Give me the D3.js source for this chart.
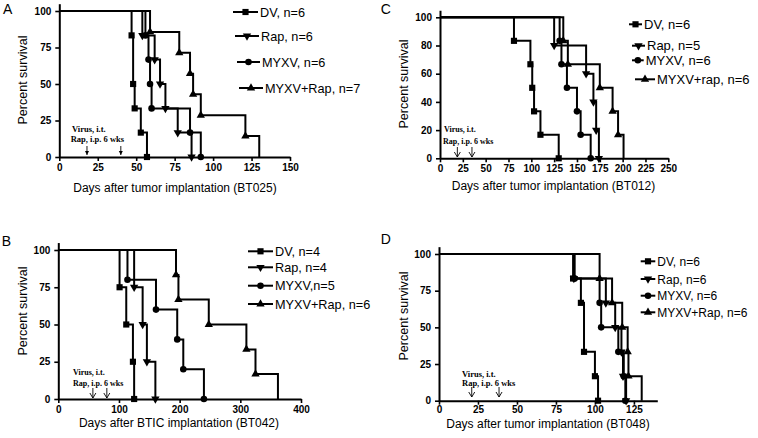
<!DOCTYPE html>
<html><head><meta charset="utf-8">
<script src="https://cdn.jsdelivr.net/npm/d3@7"></script>
<style>body{margin:0;background:#fff}svg{display:block}</style>
</head><body>
<svg id="c" width="758" height="438"></svg>
<script>
// ---------- DATA ----------
const markerTypes = ["square", "triangleDown", "circle", "triangleUp"];

// Panel A (BT025)
const A_legend = ["DV, n=6", "Rap, n=6", "MYXV, n=6", "MYXV+Rap, n=7"];
const A_DV   = [[47, 83.3], [48, 50], [49, 33.3], [53, 16.7], [57, 0]];
const A_Rap  = [[54, 83.3], [62, 66.7], [65.5, 50], [69, 33.3], [77, 16.7], [86, 0]];
const A_MYXV = [[56, 83.3], [58, 66.7], [59, 50], [60, 33.3], [85, 16.7], [92, 0]];
const A_MR   = [[59, 85.7], [78, 71.4], [85, 57.1], [87, 42.9], [92, 28.6], [121, 14.3], [130, 0]];
const A_xTicks = [0, 25, 50, 75, 100, 125, 150];
const A_yTicks = [0, 25, 50, 75, 100];
const A_arrows = [18, 40];

// Panel C (BT012)
const C_legend = ["DV, n=6", "Rap, n=5", "MYXV, n=6", "MYXV+rap, n=6"];
const C_DV   = [[81, 83.3], [99, 66.7], [101, 50], [103, 33.3], [110, 16.7], [130, 0]];
const C_Rap  = [[125, 80], [160, 60], [168, 40], [171, 20], [174, 0]];
const C_MYXV = [[131, 83.3], [133, 66.7], [139, 50], [150, 33.3], [154, 16.7], [165, 0]];
const C_MR   = [[135, 83.3], [140, 66.7], [175, 50], [189, 33.3], [195, 16.7], [201, 0]];
const C_xTicks = [0, 25, 50, 75, 100, 125, 150, 175, 200, 225, 250];
const C_yTicks = [0, 20, 40, 60, 80, 100];
const C_arrows = [19, 35];

// Panel B (BT042)
const B_legend = ["DV, n=4", "Rap, n=4", "MYXV,n=5", "MYXV+Rap, n=6"];
const B_DV   = [[101, 75], [112, 50], [123, 25], [125, 0]];
const B_Rap  = [[125, 75], [139, 50], [146, 25], [160, 0]];
const B_MYXV = [[114, 80], [161, 60], [196, 40], [206, 20], [240, 0]];
const B_MR   = [[194, 83.3], [198, 66.7], [248, 50], [310, 33.3], [325, 16.7], [362, 0]];
const B_xTicks = [0, 100, 200, 300, 400];
const B_yTicks = [0, 25, 50, 75, 100];
const B_arrows = [57, 80];

// Panel D (BT048)
const D_legend = ["DV, n=6", "Rap, n=6", "MYXV, n=6", "MYXV+Rap, n=6"];
const D_DV   = [[86, 83.3], [91, 66.7], [93, 33.3], [100, 16.7], [102, 0]];
const D_Rap  = [[86.5, 83.3], [107, 66.7], [113, 50], [117, 33.3], [118, 16.7], [120, 0]];
const D_MYXV = [[87, 83.3], [103, 66.7], [104, 50], [115, 33.3], [118.5, 16.7], [119.5, 0]];
const D_MR   = [[103, 83.3], [111, 66.7], [117.5, 50], [121, 33.3], [121.5, 16.7], [130, 0]];
const D_xTicks = [0, 25, 50, 75, 100, 125];
const D_yTicks = [0, 25, 50, 75, 100];
const D_arrows = [21, 38.5];

const annot1 = "Virus, i.t.";
const annot2 = "Rap, i.p. 6 wks";

// ---------- LAYOUT ----------
const panels = [
  {letter: "A", lx: 3, ly: 13.5, x0: 59.3, x1: 290, y0: 157, y100: 11, xMax: 150, tp: 3,
   xTicks: A_xTicks, yTicks: A_yTicks, series: [A_DV, A_Rap, A_MYXV, A_MR], legend: A_legend,
   xTitle: "Days after tumor implantation (BT025)", xtx: 175, xty: 192, ytx: 23, yty: 80,
   legX0: [233, 235, 237, 239], legTx: [260, 261, 262, 265], legY: [12, 36, 62, 88], legFs: 12.7,
   arrows: A_arrows, ay1: 146, ay2: 155, filled: true, t1: [72, 132], t2: [70.7, 142], afs: 8.5},
  {letter: "C", lx: 380.7, ly: 13.5, x0: 440, x1: 668.3, y0: 158.3, y100: 17.3, xMax: 250, tp: 3,
   xTicks: C_xTicks, yTicks: C_yTicks, series: [C_DV, C_Rap, C_MYXV, C_MR], legend: C_legend,
   xTitle: "Days after tumor implantation (BT012)", xtx: 553.5, xty: 189.5, ytx: 404, yty: 84,
   legX0: [629, 632, 632, 635], legTx: [644, 647, 645.7, 657], legY: [24.3, 45.7, 60.3, 79.3], legFs: 13,
   arrows: C_arrows, ay1: 147, ay2: 157, filled: false, t1: [444, 132], t2: [443, 144], afs: 8},
  {letter: "B", lx: 1.7, ly: 246, x0: 58.3, x1: 301, y0: 399, y100: 250, xMax: 400, tp: 3,
   xTicks: B_xTicks, yTicks: B_yTicks, series: [B_DV, B_Rap, B_MYXV, B_MR], legend: B_legend,
   xTitle: "Days after BTIC implantation (BT042)", xtx: 179, xty: 427, ytx: 23, yty: 311,
   legX0: [248, 248, 248, 248], legTx: [275, 275, 275, 275], legY: [251.3, 267.3, 285.7, 304], legFs: 12.7,
   arrows: B_arrows, ay1: 388, ay2: 398, filled: false, t1: [73, 375], t2: [73, 385.5], afs: 8},
  {letter: "D", lx: 380.7, ly: 244, x0: 439, x1: 657.3, y0: 400.7, y100: 254, xMax: 140, tp: 1.5,
   xTicks: D_xTicks, yTicks: D_yTicks, series: [D_DV, D_Rap, D_MYXV, D_MR], legend: D_legend,
   xTitle: "Days after tumor implantation (BT048)", xtx: 548, xty: 427.5, ytx: 404, yty: 316,
   legX0: [640.7, 640.7, 640.7, 640.7], legTx: [657.3, 657.3, 657.3, 657.3], legY: [261.3, 279, 295.7, 312.3], legFs: 12,
   arrows: D_arrows, ay1: 387, ay2: 397, filled: false, t1: [462, 377], t2: [462, 385.5], afs: 8.5}
];

const svg = d3.select("#c");
const FONT = "Arial, 'Liberation Sans', Helvetica, sans-serif";
const SERIF = "'Times New Roman', 'Liberation Serif', serif";

function symbolPath(type) {
  if (type === "square") return d3.symbol(d3.symbolSquare, 38)();
  if (type === "circle") return d3.symbol(d3.symbolCircle, 34)();
  return d3.symbol(d3.symbolTriangle, 30)();
}
function drawMarker(g, type, x, y) {
  g.append("path").attr("d", symbolPath(type))
    .attr("transform", `translate(${x},${y})` + (type === "triangleDown" ? " rotate(180)" : ""))
    .attr("fill", "#000");
}

panels.forEach(p => {
  const g = svg.append("g");
  const x = d3.scaleLinear().domain([0, p.xMax]).range([p.x0, p.x1]);
  const y = d3.scaleLinear().domain([0, 100]).range([p.y0, p.y100]);
  const yAx = d3.scaleLinear().domain([0, 105]).range([p.y0, y(105)]);

  // panel letter
  g.append("text").attr("x", p.lx).attr("y", p.ly).text(p.letter)
    .attr("font-family", FONT).attr("font-size", 14);

  // axes
  const ya = g.append("g").attr("transform", `translate(${p.x0},0)`)
    .call(d3.axisLeft(yAx).tickValues(p.yTicks).tickSize(4).tickPadding(4).tickSizeOuter(0));
  const xa = g.append("g").attr("transform", `translate(0,${p.y0})`)
    .call(d3.axisBottom(x).tickValues(p.xTicks).tickSize(4).tickPadding(p.tp).tickSizeOuter(0));
  [ya, xa].forEach(a => {
    a.select(".domain").attr("stroke-width", 2).attr("stroke", "#000");
    a.selectAll(".tick line").attr("stroke-width", 1.6).attr("stroke", "#000");
    a.selectAll(".tick text").attr("font-family", FONT).attr("font-size", 10)
      .attr("font-weight", "bold").attr("fill", "#000");
  });

  // titles
  g.append("text").attr("x", p.xtx).attr("y", p.xty).attr("text-anchor", "middle")
    .attr("font-family", FONT).attr("font-size", 12).text(p.xTitle);
  g.append("text").attr("transform", `translate(${p.ytx + 4},${p.yty}) rotate(-90)`)
    .attr("text-anchor", "middle").attr("font-family", FONT).attr("font-size", 12.5)
    .text("Percent survival");

  // survival curves
  const line = d3.line().x(d => x(d[0])).y(d => y(d[1]));
  p.series.forEach((s, i) => {
    const pts = [[0, 100]];
    let prev = 100;
    s.forEach(([t, v]) => { pts.push([t, prev]); pts.push([t, v]); prev = v; });
    g.append("path").attr("d", line(pts)).attr("fill", "none")
      .attr("stroke", "#000").attr("stroke-width", 2).attr("stroke-linejoin", "miter");
  });
  p.series.forEach((s, i) => {
    s.forEach(([t, v], k) => {
      if (markerTypes[i] === "triangleUp" && k === s.length - 1) return;
      drawMarker(g, markerTypes[i], x(t), y(v));
    });
  });

  // legend
  p.legend.forEach((lab, i) => {
    const yy = p.legY[i];
    const xe = p.legTx[i] - 2;
    g.append("line").attr("x1", p.legX0[i]).attr("x2", xe).attr("y1", yy).attr("y2", yy)
      .attr("stroke", "#000").attr("stroke-width", 2);
    drawMarker(g, markerTypes[i], (p.legX0[i] + xe) / 2, yy);
    g.append("text").attr("x", p.legTx[i]).attr("y", yy + 4.5).text(lab)
      .attr("font-family", FONT).attr("font-size", p.legFs);
  });

  // treatment annotation
  g.append("text").attr("x", p.t1[0]).attr("y", p.t1[1]).text(annot1)
    .attr("font-family", SERIF).attr("font-weight", "bold").attr("font-size", p.afs);
  g.append("text").attr("x", p.t2[0]).attr("y", p.t2[1]).text(annot2)
    .attr("font-family", SERIF).attr("font-weight", "bold").attr("font-size", p.afs);
  p.arrows.forEach(d => {
    const ax = x(d);
    g.append("line").attr("x1", ax).attr("x2", ax).attr("y1", p.ay1).attr("y2", p.ay2)
      .attr("stroke", "#000").attr("stroke-width", 0.9);
    if (p.filled) {
      g.append("path").attr("d", `M${ax - 2},${p.ay2 - 4}L${ax + 2},${p.ay2 - 4}L${ax},${p.ay2}Z`).attr("fill", "#000");
    } else {
      g.append("path").attr("d", `M${ax - 3},${p.ay2 - 5}L${ax},${p.ay2}L${ax + 3},${p.ay2 - 5}`)
        .attr("fill", "none").attr("stroke", "#000").attr("stroke-width", 0.9);
    }
  });
});
</script>
</body></html>
